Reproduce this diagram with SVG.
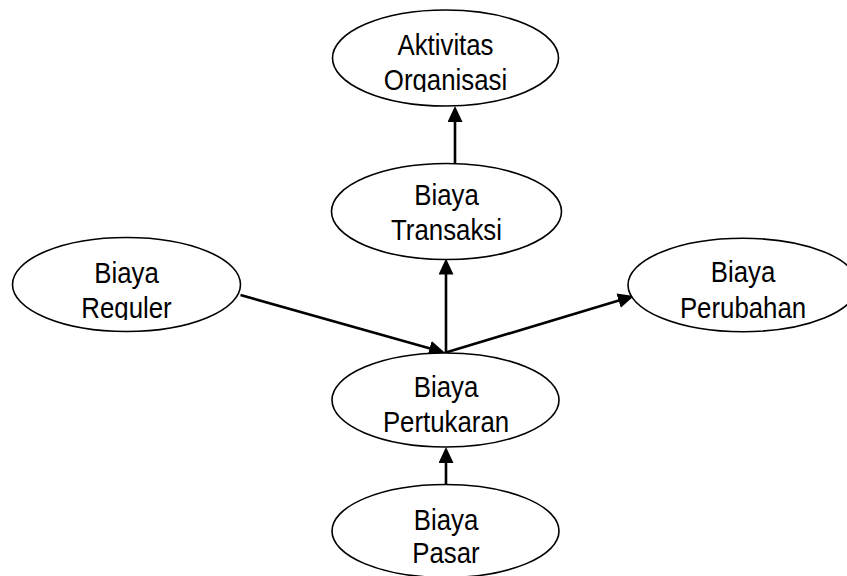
<svg xmlns="http://www.w3.org/2000/svg" width="847" height="576" viewBox="0 0 847 576">
  <style>
    .node ellipse { fill: #ffffff; stroke: #000000; stroke-width: 1.6; }
    .lbl { font-family: "Liberation Sans", Arial, sans-serif; font-size: 29px; fill: #000000; text-anchor: middle; }
    .edge { stroke: #000000; stroke-width: 2.6; fill: none; marker-end: url(#head); }
  </style>
  <defs>
    <marker id="head" markerUnits="userSpaceOnUse" markerWidth="17" markerHeight="16" refX="8" refY="7.5" orient="auto">
      <path d="M0,0 L16,7.5 L0,15 Z" fill="#000000"/>
    </marker>
    <clipPath id="clipAkt"><rect x="330" y="10" width="232" height="82"/></clipPath>
    <clipPath id="clipReg"><rect x="10" y="237" width="232" height="83"/></clipPath>
  </defs>

  <rect width="847" height="576" fill="#ffffff"/>

  <g id="connectors">
    <line class="edge" x1="455" y1="163" x2="455" y2="114"/>
    <line class="edge" x1="446" y1="352.7" x2="446" y2="266.5"/>
    <line class="edge" x1="240.5" y1="295" x2="437.3" y2="350.5"/>
    <line class="edge" x1="445" y1="352.7" x2="626.3" y2="298.3"/>
    <line class="edge" x1="446" y1="485" x2="446" y2="455"/>
  </g>

  <g id="aktivitas-organisasi" class="node">
    <ellipse cx="445.5" cy="58" rx="113" ry="48"/>
    <g clip-path="url(#clipAkt)">
      <text class="lbl" transform="translate(445.5,55) scale(0.89,1)">Aktivitas</text>
      <text class="lbl" transform="translate(445.5,90) scale(0.89,1)">Organisasi</text>
    </g>
  </g>

  <g id="biaya-transaksi" class="node">
    <ellipse cx="446.5" cy="211.5" rx="115" ry="48"/>
    <text class="lbl" transform="translate(446.5,205) scale(0.89,1)">Biaya</text>
    <text class="lbl" transform="translate(446.5,240) scale(0.89,1)">Transaksi</text>
  </g>

  <g id="biaya-reguler" class="node">
    <ellipse cx="126.5" cy="284.5" rx="114" ry="47"/>
    <g clip-path="url(#clipReg)">
      <text class="lbl" transform="translate(126.5,283) scale(0.89,1)">Biaya</text>
      <text class="lbl" transform="translate(126.5,318) scale(0.89,1)">Reguler</text>
    </g>
  </g>

  <g id="biaya-perubahan" class="node">
    <ellipse cx="743" cy="285" rx="115" ry="46.7"/>
    <text class="lbl" transform="translate(743,281.7) scale(0.89,1)">Biaya</text>
    <text class="lbl" transform="translate(743,318) scale(0.89,1)">Perubahan</text>
  </g>

  <g id="biaya-pertukaran" class="node">
    <ellipse cx="445.5" cy="400" rx="113.5" ry="47"/>
    <text class="lbl" transform="translate(446,396.7) scale(0.89,1)">Biaya</text>
    <text class="lbl" transform="translate(446,431.7) scale(0.89,1)">Pertukaran</text>
  </g>

  <g id="biaya-pasar" class="node">
    <ellipse cx="445.5" cy="531" rx="113.5" ry="46.5"/>
    <text class="lbl" transform="translate(446,530) scale(0.89,1)">Biaya</text>
    <text class="lbl" transform="translate(446,563) scale(0.89,1)">Pasar</text>
  </g>
</svg>
